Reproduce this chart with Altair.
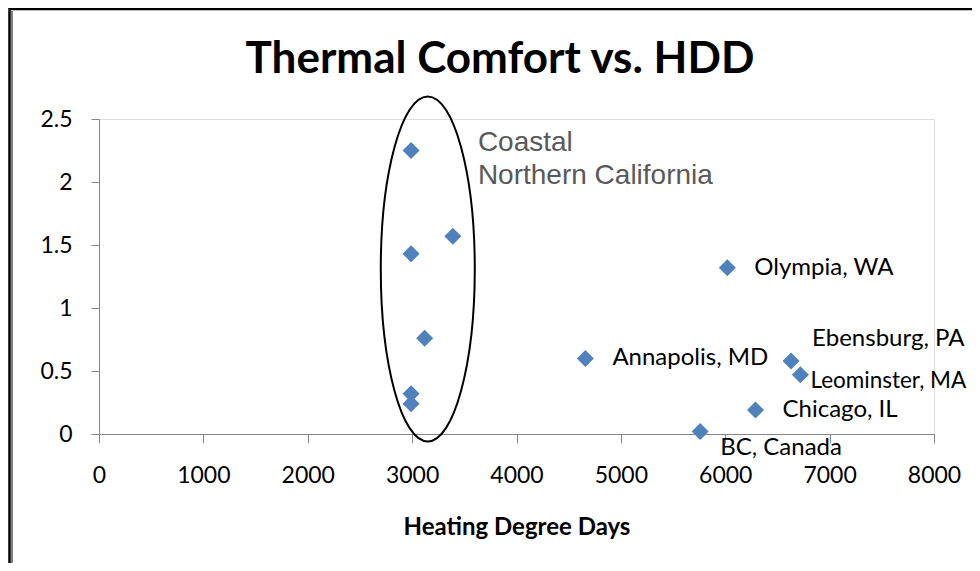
import altair as alt
import pandas as pd

# ---- values ----
hdd = [2990, 3390, 2990, 3120, 2990, 2990, 6020, 4660, 6630, 6720, 6290, 5760]
comfort = [2.25, 1.57, 1.43, 0.76, 0.32, 0.24, 1.32, 0.60, 0.58, 0.47, 0.19, 0.02]
place = ["", "", "", "", "", "",
         "Olympia, WA", "Annapolis, MD", "Ebensburg, PA",
         "Leominster, MA", "Chicago, IL", "BC, Canada"]

x_ticks = [0, 1000, 2000, 3000, 4000, 5000, 6000, 7000, 8000]
y_ticks = [0, 0.5, 1, 1.5, 2, 2.5]

title_text = "Thermal Comfort vs. HDD"
x_title = "Heating Degree Days"
note_text = "Coastal\nNorthern California"
note_hdd = [3630]
note_comfort = [2.25]
ring_hdd = [3150]
ring_comfort = [1.31]

df = pd.DataFrame({"hdd": hdd, "comfort": comfort, "place": place})
note_df = pd.DataFrame({"hdd": note_hdd, "comfort": note_comfort, "txt": [note_text]})
ring_df = pd.DataFrame({"hdd": ring_hdd, "comfort": ring_comfort})

AX = "#868686"
x_enc = alt.X("hdd:Q", scale=alt.Scale(domain=[0, 8000], nice=False, zero=False),
              axis=alt.Axis(values=x_ticks, format="d", title=x_title,
                            grid=False, domainColor=AX, tickColor=AX, tickSize=9,
                            labelFont="Lato", labelFontSize=23, labelColor="black",
                            labelPadding=21, labelFlush=False, labelOverlap=False,
                            titleFont="Lato", titleFontSize=24, titleFontWeight="bold",
                            titleColor="black", titlePadding=28))
y_enc = alt.Y("comfort:Q", scale=alt.Scale(domain=[0, 2.5], nice=False),
              axis=alt.Axis(values=y_ticks, format=".1~f", title=None,
                            grid=False, domainColor=AX, tickColor=AX, tickSize=8,
                            labelFont="Lato", labelFontSize=23, labelColor="black",
                            labelPadding=19, labelFlush=False, labelOverlap=False))

points = alt.Chart(df).mark_point(shape="diamond", filled=True, size=290,
                                  color="#4F81BD", opacity=1).encode(x=x_enc, y=y_enc)


def labels(names, dx, dy, fs=24):
    return alt.Chart(df).transform_filter(
        alt.FieldOneOfPredicate(field="place", oneOf=names)
    ).mark_text(align="left", baseline="middle", dx=dx, dy=dy, font="Lato",
                fontSize=fs, color="black").encode(x=x_enc, y=y_enc, text="place:N")


lab1 = labels(["Olympia, WA", "Annapolis, MD", "Chicago, IL"], 27, 0)
lab2 = labels(["Ebensburg, PA"], 21, -22)
lab3 = labels(["Leominster, MA"], 10, 6, 22.5)
lab4 = labels(["BC, Canada"], 20, 17)

a = 0.2725
k = 0.5523
ell_path = (f"M 0 -1 C {k*a:.4f} -1 {a} -{k} {a} 0 "
            f"C {a} {k} {k*a:.4f} 1 0 1 "
            f"C -{k*a:.4f} 1 -{a} {k} -{a} 0 "
            f"C -{a} -{k} -{k*a:.4f} -1 0 -1 Z")
ring = alt.Chart(ring_df).mark_point(shape=ell_path, size=(2 * 172.5) ** 2,
                                     filled=False, color="black", strokeWidth=2,
                                     opacity=1).encode(x=x_enc, y=y_enc)

note = alt.Chart(note_df).mark_text(align="left", baseline="alphabetic", lineBreak="\n",
                                    lineHeight=33, font="Liberation Sans", fontSize=28,
                                    color="#595959").encode(x=x_enc, y=y_enc, text="txt:N")

frame_df = pd.DataFrame({"k": [0]})
frame = alt.Chart(frame_df).mark_rect(fillOpacity=0, stroke="black", strokeWidth=2.5).encode(
    x=alt.value(-89.5), x2=alt.value(3000), y=alt.value(-110), y2=alt.value(3000))
frame_shadow = alt.Chart(frame_df).mark_rule(color="#808080", strokeWidth=2).encode(
    x=alt.value(-87), y=alt.value(-108), y2=alt.value(3000))

title = alt.Chart(frame_df).mark_text(text=title_text, font="Lato", fontSize=44,
                                      fontWeight="bold", color="black", align="center",
                                      baseline="alphabetic").encode(
    x=alt.value(401), y=alt.value(-46))

chart = alt.layer(frame, frame_shadow, title, ring, note, points,
                  lab1, lab2, lab3, lab4).properties(
    width=835, height=315,
    autosize=alt.AutoSizeParams(type="none"),
    padding={"left": 91, "top": 111, "right": 38, "bottom": 129},
).configure_view(stroke=None).configure(background="white")

chart.save("out.html", embed_options={"renderer": "svg", "actions": False})
